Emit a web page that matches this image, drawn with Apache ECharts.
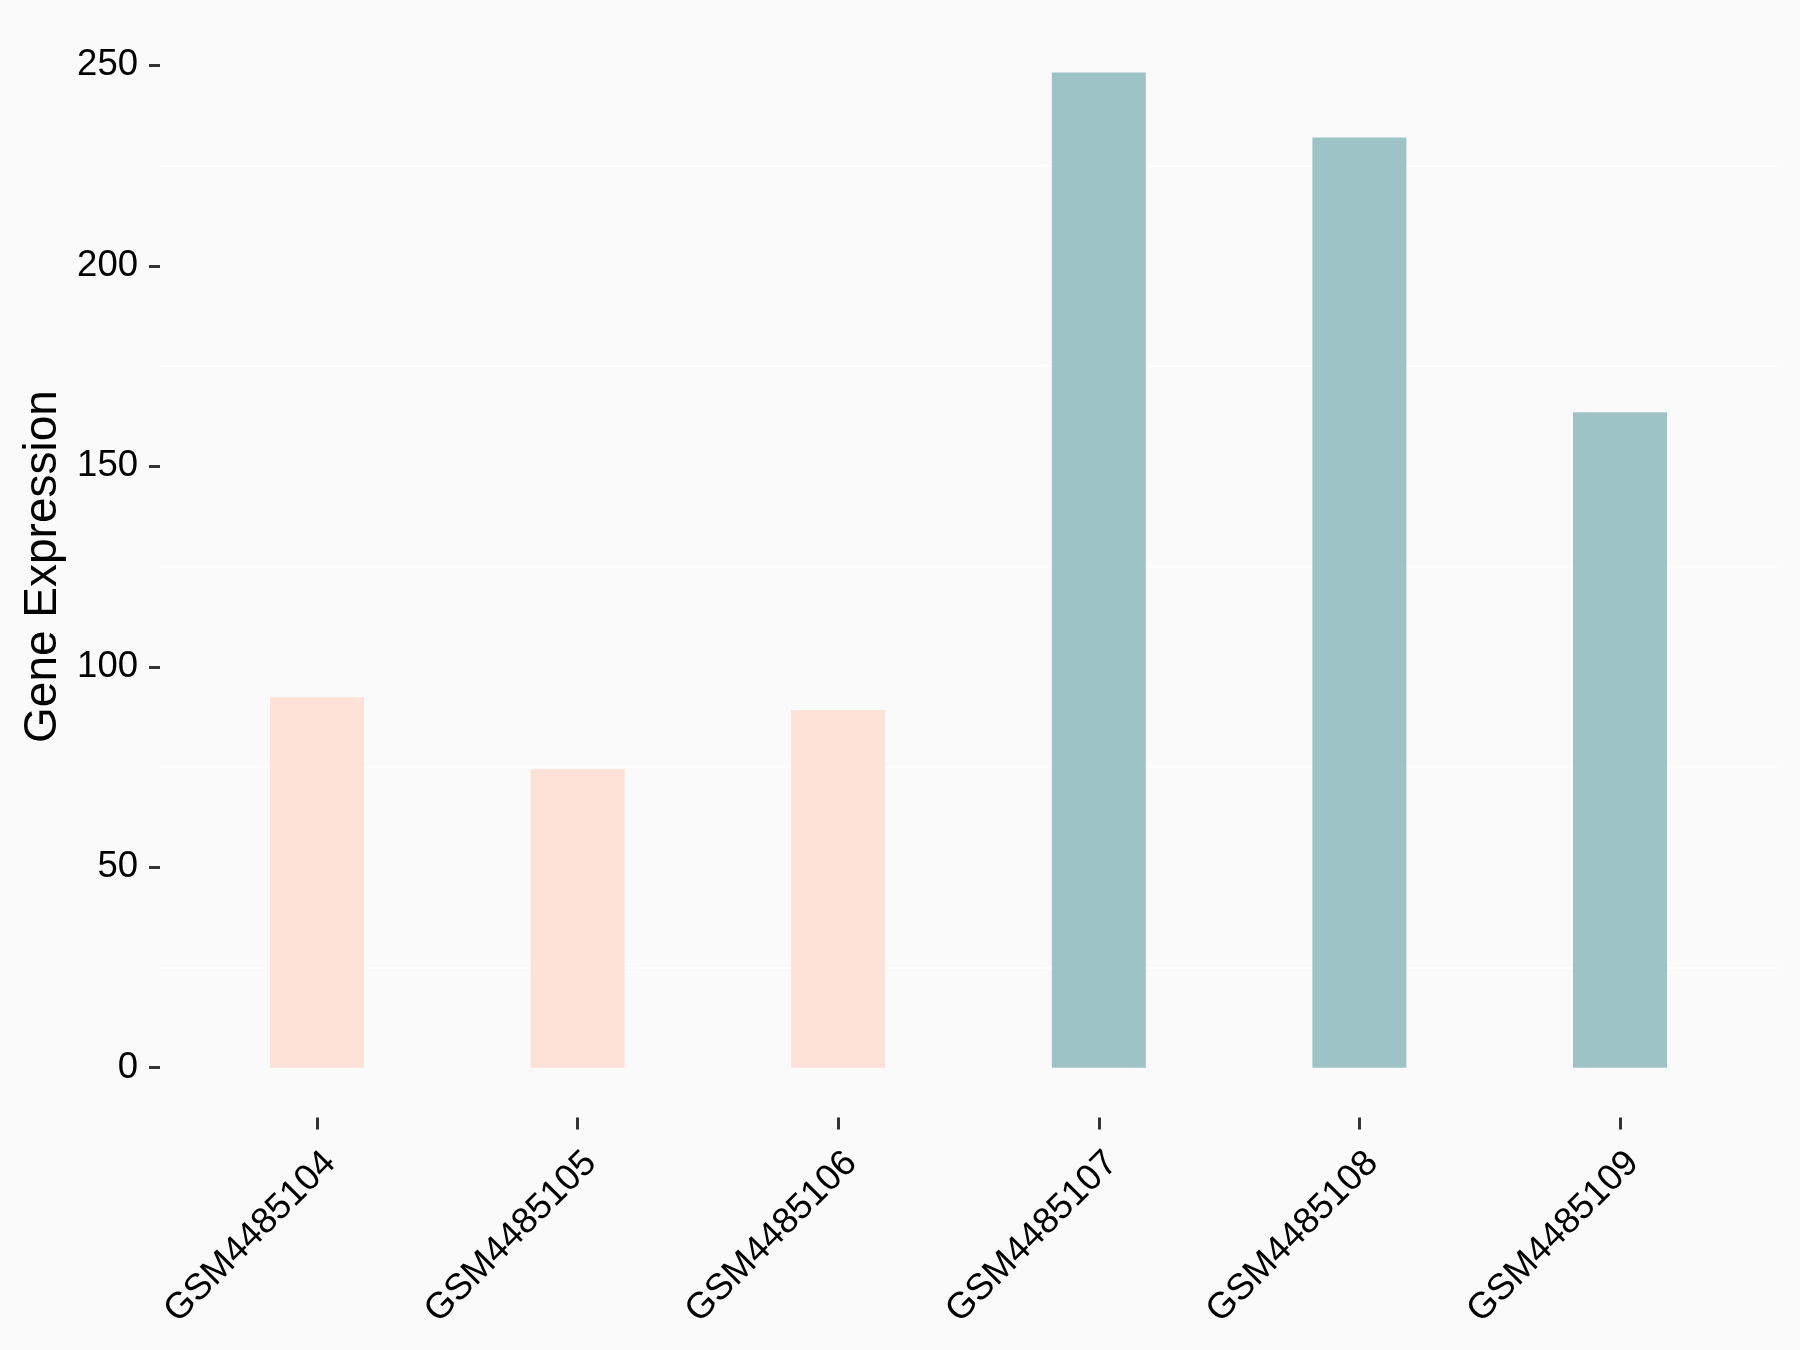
<!DOCTYPE html>
<html>
<head>
<meta charset="utf-8">
<script src="https://cdn.jsdelivr.net/npm/echarts@6/dist/echarts.min.js"></script>
<style>
html,body{margin:0;padding:0;background:#FAFAFA;}
#chart{width:1800px;height:1350px;}
</style>
</head>
<body>
<div id="chart"></div>
<script>
const categories = ['GSM4485104','GSM4485105','GSM4485106','GSM4485107','GSM4485108','GSM4485109'];
const values = [92.4, 74.5, 89.2, 248.2, 232.0, 163.5];
const groups = ['low','low','low','high','high','high'];
const groupColors = {low:'#FEE1D7', high:'#9DC3C7'};
const yTicks = [0, 50, 100, 150, 200, 250];

const FONT = '"Liberation Sans", Arial, sans-serif';
const chart = echarts.init(document.getElementById('chart'), null, {renderer:'canvas'});

const gridTop = 65.4, gridBottom = 1350 - 1067.7;
const panelBottom = 1350 - 1117.4;
const yMinPanel = -12.39;
chart.setOption({
  backgroundColor:'#FAFAFA',
  animation:false,
  grid:[
    {left:160, right:23, top:gridTop, bottom:gridBottom, outerBoundsMode:'none', containLabel:false},
    {left:186.7, right:49.7, top:gridTop, bottom:panelBottom, outerBoundsMode:'none', containLabel:false}
  ],
  xAxis:[
    {gridIndex:0, type:'value', show:false},
    {gridIndex:1, type:'category', data:categories,
     axisLine:{show:false, onZero:false},
     axisTick:{show:true, alignWithLabel:true, length:12, lineStyle:{color:'#333333', width:3}},
     axisLabel:{rotate:45, margin:27, verticalAlign:'top', color:'#000', fontSize:36.5, fontFamily:FONT, interval:0}
    }
  ],
  yAxis:[
    {gridIndex:0, type:'value', min:yTicks[0], max:yTicks[yTicks.length-1], interval:50,
     name:'Gene Expression', nameLocation:'middle', nameGap:94, nameRotate:90,
     nameTextStyle:{color:'#000', fontSize:46, fontFamily:FONT},
     axisLine:{show:false},
     axisTick:{show:true, length:11, lineStyle:{color:'#333333', width:3}},
     axisLabel:{margin:22, color:'#000', fontSize:36.5, fontFamily:FONT},
     splitLine:{show:false},
     minorTick:{show:false, splitNumber:2},
     minorSplitLine:{show:true, lineStyle:{color:'#FFFFFF', width:2}}
    },
    {gridIndex:1, type:'value', min:yMinPanel, max:yTicks[yTicks.length-1], show:false}
  ],
  series:[{
    type:'bar', xAxisIndex:1, yAxisIndex:1, barWidth:94,
    data: values.map((v,i)=>({value:v, itemStyle:{color:groupColors[groups[i]]}}))
  }]
});
</script>
</body>
</html>
